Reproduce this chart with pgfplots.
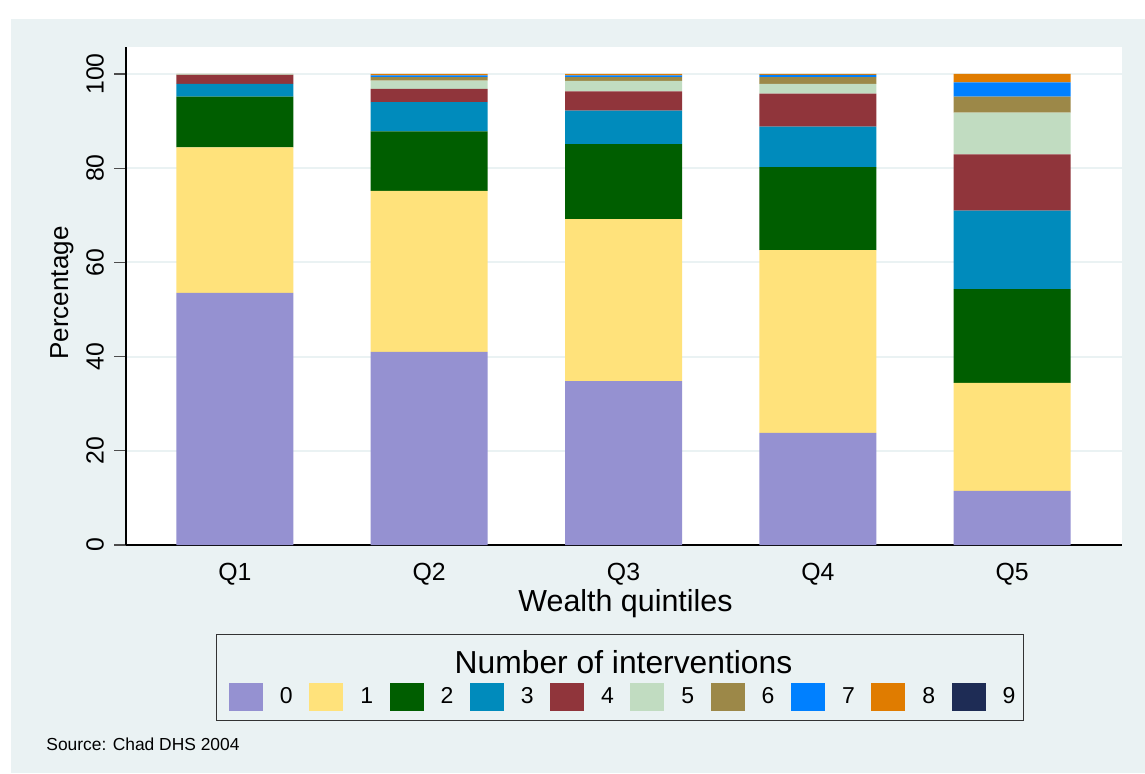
\documentclass[border=0pt]{standalone}
\usepackage{fontspec}
\setmainfont{Liberation Sans}
\usepackage{pgfplots}
\usepackage{pgfplotstable}
\pgfplotsset{compat=1.18}

\definecolor{bg}{HTML}{EAF2F3}
\definecolor{c0}{HTML}{9591D1}
\definecolor{c1}{HTML}{FFE27B}
\definecolor{c2}{HTML}{005E00}
\definecolor{c3}{HTML}{008BBC}
\definecolor{c4}{HTML}{90353B}
\definecolor{c5}{HTML}{C1DCC1}
\definecolor{c6}{HTML}{9C8848}
\definecolor{c7}{HTML}{0080FF}
\definecolor{c8}{HTML}{E07C00}
\definecolor{c9}{HTML}{1E2C55}

% share of women by number of interventions, per wealth quintile
\pgfplotstableread{
x  s0    s1    s2    s3    s4    s5    s6    s7    s8    s9
1  53.5  30.9  10.8  2.7   1.9   0.1   0.1   0.0   0.0   0.0
2  41.0  34.2  12.6  6.2   2.8   1.8   0.7   0.4   0.3   0.0
3  34.8  34.4  15.9  7.1   4.1   2.2   0.8   0.4   0.3   0.0
4  23.8  38.8  17.6  8.6   7.0   2.1   1.4   0.5   0.2   0.0
5  11.5  22.9  19.9  16.7  11.9  8.9   3.4   3.0   1.8   0.0
}\quintiles

\pgfplotsset{
  sw/.style={fill=#1, draw=none,
    legend image code/.code={\fill[#1] (0pt,-7pt) rectangle (17pt,7pt);}},
}

\begin{document}
\begin{tikzpicture}
\useasboundingbox (0,0) rectangle (572.5pt,386.5pt);
\fill[white] (0,0) rectangle (572.5pt,386.5pt);
\fill[bg] (5.5pt,0) rectangle (572.5pt,377pt);

\begin{axis}[
  at={(63pt,114pt)}, anchor=south west,
  scale only axis, width=498pt, height=249.2pt,
  axis background/.style={fill=white},
  xmin=0.44, xmax=5.565, ymin=0, ymax=105.8,
  ybar stacked, bar width=58.5pt,
  axis x line*=bottom, axis y line*=left,
  axis line style={black, line width=0.6pt},
  xtick={1,2,3,4,5}, xticklabels={Q1,Q2,Q3,Q4,Q5},
  x tick style={draw=none},
  ytick={0,20,40,60,80,100},
  y tick style={black!70, line width=0.6pt},
  tick align=outside, major tick length=6pt,
  ymajorgrids, grid style={bg, line width=1pt},
  /pgf/number format/assume math mode=true,
  ticklabel style={font=\fontsize{12.4}{14}\selectfont},
  yticklabel style={rotate=90, anchor=base, inner sep=0pt, yshift=5.2pt},
  xticklabel style={anchor=base, inner sep=0pt, yshift=-11.5pt},
  xlabel={Wealth quintiles},
  xlabel style={font=\fontsize{15.2}{17}\selectfont, at={(axis description cs:0.5015,-0.1344)}, anchor=base},
  ylabel={Percentage},
  ylabel style={font=\fontsize{13}{15}\selectfont, at={(axis description cs:-0.0582,0.5056)}, anchor=base},
  legend columns=10,
  legend style={at={(axis description cs:0.1034,-0.305)}, anchor=west,
    draw=none, fill=none, inner sep=0pt, outer sep=0pt,
    font=\fontsize{11.5}{13}\selectfont,
    nodes={inner sep=0pt},
    /tikz/every odd column/.append style={column sep=8.5pt},
    /tikz/every even column/.append style={column sep=8.25pt}},
]
\addplot[sw=c0] table[x=x, y=s0] {\quintiles};
\addplot[sw=c1] table[x=x, y=s1] {\quintiles};
\addplot[sw=c2] table[x=x, y=s2] {\quintiles};
\addplot[sw=c3] table[x=x, y=s3] {\quintiles};
\addplot[sw=c4] table[x=x, y=s4] {\quintiles};
\addplot[sw=c5] table[x=x, y=s5] {\quintiles};
\addplot[sw=c6] table[x=x, y=s6] {\quintiles};
\addplot[sw=c7] table[x=x, y=s7] {\quintiles};
\addplot[sw=c8] table[x=x, y=s8] {\quintiles};
\addplot[sw=c9] table[x=x, y=s9] {\quintiles};
\legend{0,1,2,3,4,5,6,7,8,9}
\end{axis}

% legend frame and title
\draw[black!80, line width=0.5pt] (108pt,26.2pt) rectangle (511.7pt,69.5pt);
\node[anchor=base, inner sep=0pt, font=\fontsize{15.9}{18}\selectfont] at (311.75pt,50pt) {Number of interventions};
\node[anchor=base west, inner sep=0pt, font=\fontsize{8.7}{10}\selectfont] at (23pt,11.5pt) {Source: Chad DHS 2004};
\end{tikzpicture}
\end{document}
